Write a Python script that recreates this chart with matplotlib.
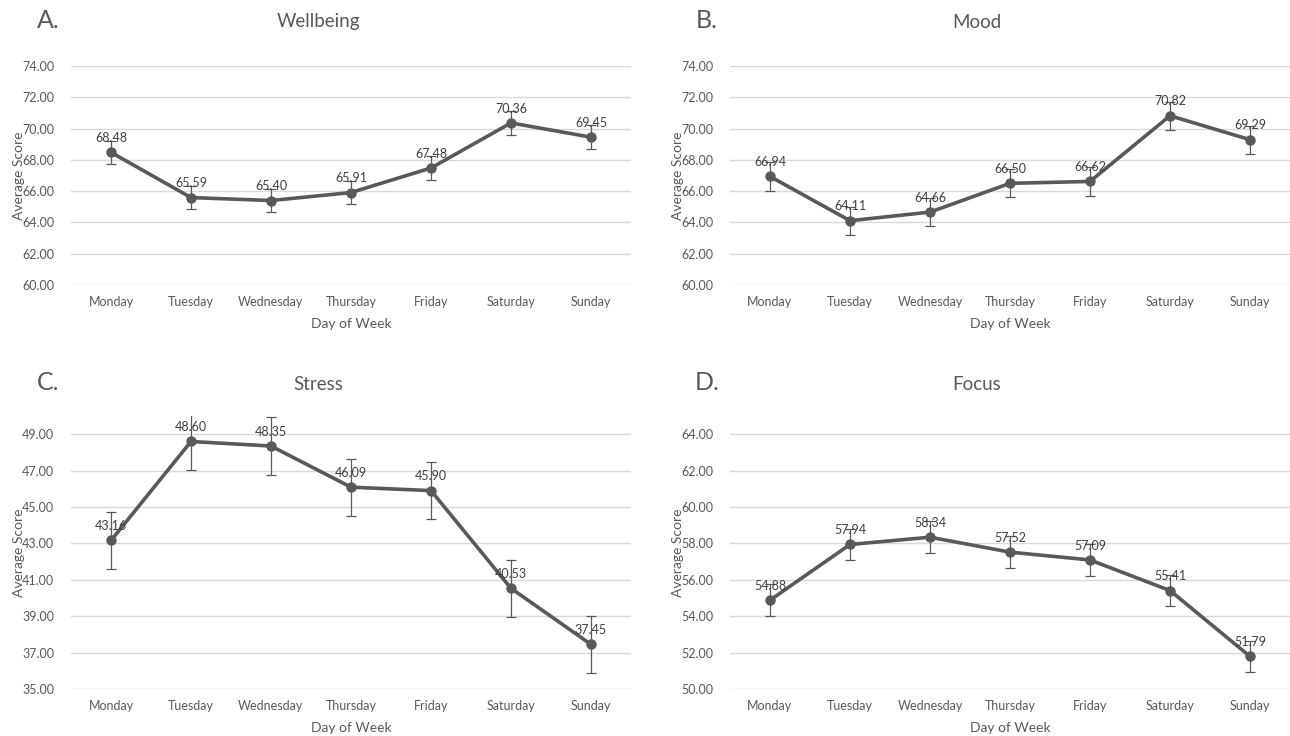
import matplotlib
matplotlib.use("Agg")
import matplotlib.pyplot as plt

plt.rcParams['font.family'] = ['Lato', 'DejaVu Sans']

days = ["Monday", "Tuesday", "Wednesday", "Thursday", "Friday", "Saturday", "Sunday"]

wellbeing = [68.48, 65.59, 65.40, 65.91, 67.48, 70.36, 69.45]
wellbeing_err = [0.75, 0.75, 0.75, 0.75, 0.75, 0.75, 0.75]
mood = [66.94, 64.11, 64.66, 66.50, 66.62, 70.82, 69.29]
mood_err = [0.9, 0.9, 0.9, 0.9, 0.9, 0.9, 0.9]
stress = [43.16, 48.60, 48.35, 46.09, 45.90, 40.53, 37.45]
stress_err = [1.57, 1.57, 1.57, 1.57, 1.57, 1.57, 1.57]
focus = [54.88, 57.94, 58.34, 57.52, 57.09, 55.41, 51.79]
focus_err = [0.87, 0.87, 0.87, 0.87, 0.87, 0.87, 0.87]

grey = "#595959"
W, H = 1290, 736

fig = plt.figure(figsize=(12.9, 7.36), dpi=100)

# letter, title, values, errors, ylim, ticks, axes box in px (left, top, right, bottom), x shift
panels = [
    ("A.", "Wellbeing", wellbeing, wellbeing_err, (60, 74), range(60, 75, 2), (71, 66, 631, 285), 0),
    ("B.", "Mood", mood, mood_err, (60, 74), range(60, 75, 2), (730, 66, 1290, 285), 659),
    ("C.", "Stress", stress, stress_err, (35, 50), range(35, 50, 2), (71, 416, 631, 689), 0),
    ("D.", "Focus", focus, focus_err, (50, 65), range(50, 65, 2), (730, 416, 1290, 689), 659),
]

for letter, title, vals, errs, ylim, ticks, box, dx in panels:
    l, t, r, b = box
    ax = fig.add_axes([l / W, 1 - b / H, (r - l) / W, (b - t) / H])
    x = list(range(len(days)))
    ax.errorbar(x, vals, yerr=errs, color=grey, lw=2.6, marker="o", ms=6.5,
                ecolor=grey, elinewidth=0.9, capsize=3.5, capthick=0.9, zorder=3)
    for xi, v in zip(x, vals):
        ax.annotate(f"{v:.2f}", (xi, v), xytext=(0, 6), textcoords="offset points",
                    ha="center", va="bottom", fontsize=9, color="#404040", zorder=4)
    ax.set_xlim(-0.5, len(days) - 0.5)
    ax.set_ylim(*ylim)
    ax.set_yticks(list(ticks))
    ax.set_yticklabels([f"{v:.2f}" for v in ticks])
    ax.set_xticks(x)
    ax.set_xticklabels(days)
    ax.grid(axis="y", color="#d9d9d9", lw=1)
    ax.set_axisbelow(True)
    for s in ax.spines.values():
        s.set_visible(False)
    ax.tick_params(length=0, labelsize=9, labelcolor=grey)
    ax.tick_params(axis="y", pad=12)
    ax.tick_params(axis="x", pad=8)
    ax.set_xlabel("Day of Week", fontsize=10, color=grey, labelpad=7)
    ax.set_ylabel("Average Score", fontsize=10, color=grey)
    ax.yaxis.set_label_coords((25 + dx - l) / (r - l), 0.5)

    top = 20 if t < 200 else 383
    fig.text((48 + dx) / W, 1 - top / H, letter, fontsize=18,
             color=grey, va="center", ha="center")
    fig.text((318 + dx) / W, 1 - (top + 2) / H, title, fontsize=13.5,
             color=grey, va="center", ha="center")

fig.savefig("out.png", dpi=100, facecolor="white")
